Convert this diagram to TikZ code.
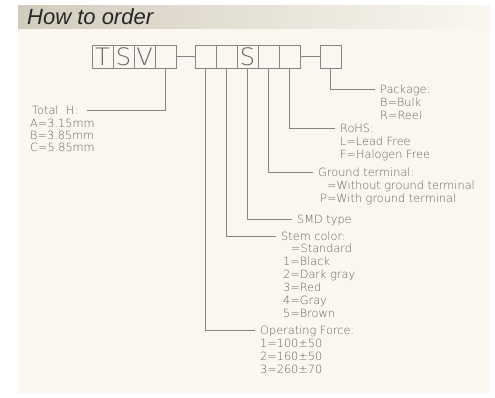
\documentclass[tikz,border=0pt]{standalone}
\usepackage{fontspec}
\setmainfont{Liberation Sans}
\newfontfamily\cadfont{DejaVu Sans ExtraLight}
\usetikzlibrary{positioning}
\definecolor{panel}{HTML}{FAF7F0}
\definecolor{band}{HTML}{D2CCBC}
\definecolor{wire}{HTML}{858585}
\definecolor{ink}{HTML}{626262}

\begin{document}
\begin{tikzpicture}[x=1pt, y=-1pt,
  cell/.style={draw=wire, line width=0.9pt, minimum width=21pt, minimum height=23pt, inner sep=0pt, outer sep=0pt, text=ink, font=\cadfont\fontsize{24}{24}\selectfont},
  lead/.style={draw=wire, line width=0.9pt},
  head/.style={anchor=west, inner xsep=5pt, inner ysep=0pt, text height=8pt, text depth=0pt, text=ink, font=\cadfont\fontsize{11.3}{13}\selectfont},
  opts/.style={anchor=north west, inner sep=0pt, align=left, text=ink, font=\cadfont\fontsize{11.3}{13}\selectfont}
]
\useasboundingbox (0,0) rectangle (495,397);
\fill[panel] (18,28) rectangle (490,393);
\shade[left color=band, right color=panel] (18,5) rectangle (490,28);
\node[anchor=west, inner sep=0pt, text=black!85, font=\itshape\fontsize{22}{22}\selectfont] (title) at (27,16.5) {How to order};

% part number cells
\node[cell] (t1) at (102.5,56.5) {T};
\node[cell] (t2) at (123.5,56.5) {S};
\node[cell] (t3) at (144.5,56.5) {V};
\node[cell] (t4) at (165.5,56.5) {};
\node[cell] (g1) at (205.5,56.5) {};
\node[cell] (g2) at (226.5,56.5) {};
\node[cell] (g3) at (247.5,56.5) {S};
\node[cell] (g4) at (268.5,56.5) {};
\node[cell] (g5) at (289.5,56.5) {};
\node[cell] (p1) at (330.5,56.5) {};

\draw[lead] (t4.east) -- (g1.west);
\draw[lead] (g5.east) -- (p1.west);

% option texts
\node[head] (totalh) at (27,110) {Total\ \ H:};
\node[opts] (totalhopt) at (30,119) {A=3.15mm\\[-1pt]B=3.85mm\\[-1pt]C=5.85mm};
\node[head] (pack) at (375,89) {Package:};
\node[opts] (packopt) at (380,98) {B=Bulk\\R=Reel};
\node[head] (rohs) at (335,128) {RoHS:};
\node[opts] (rohsopt) at (340,137) {L=Lead Free\\F=Halogen Free};
\node[head] (gnd) at (313,172) {Ground terminal:};
\node[opts] (gndopt) at (320,181) {\hspace{7pt}=Without ground terminal\\P=With ground terminal};
\node[head] (smd) at (292,219) {SMD type};
\node[head] (stem) at (276,236) {Stem color:};
\node[opts] (stemopt) at (283,244) {\hspace{8pt}=Standard\\1=Black\\2=Dark gray\\3=Red\\4=Gray\\5=Brown};
\node[head] (force) at (255,330) {Operating Force:};
\node[opts] (forceopt) at (260,338.5) {1=100±50\\2=160±50\\3=260±70};

% leaders
\draw[lead] (t4.south) |- ([xshift=4pt]totalh.east);
\draw[lead] (p1.south) |- (pack.west);
\draw[lead] (g5.south) |- (rohs.west);
\draw[lead] (g4.south) |- (gnd.west);
\draw[lead] (g3.south) |- (smd.west);
\draw[lead] (g2.south) |- (stem.west);
\draw[lead] (g1.south) |- (force.west);
\end{tikzpicture}
\end{document}
